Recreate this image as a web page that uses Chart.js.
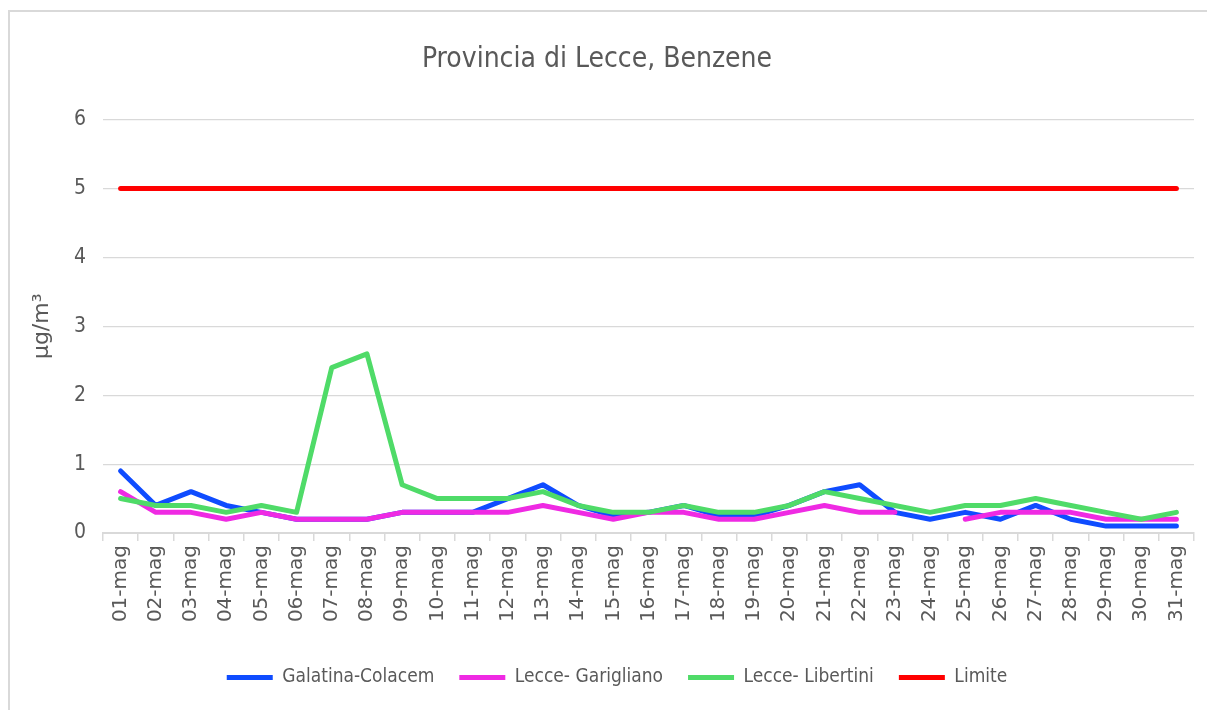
<!DOCTYPE html>
<html>
<head>
<meta charset="utf-8">
<title>Provincia di Lecce, Benzene</title>
<script src="https://cdn.jsdelivr.net/npm/chart.js@4.4.1/dist/chart.umd.min.js"></script>
<style>
    html, body { margin: 0; padding: 0; background: #ffffff; overflow: hidden; }
    #frame {
        position: absolute; left: 8px; top: 10px;
        width: 1240px; height: 740px;
        border: 2px solid #d9d9d9;
    }
    #wrap { position: absolute; left: 0; top: 0; width: 1207px; height: 710px; }
</style>
</head>
<body>
<div id="frame"></div>
<div id="wrap"><canvas id="benzeneChart" width="1207" height="710"></canvas></div>
<script>
// ==========================
// data (µg/m³, maggio)
// ==========================
const giorni = [
    "01-mag", "02-mag", "03-mag", "04-mag", "05-mag", "06-mag", "07-mag", "08-mag",
    "09-mag", "10-mag", "11-mag", "12-mag", "13-mag", "14-mag", "15-mag", "16-mag",
    "17-mag", "18-mag", "19-mag", "20-mag", "21-mag", "22-mag", "23-mag", "24-mag",
    "25-mag", "26-mag", "27-mag", "28-mag", "29-mag", "30-mag", "31-mag"
];

const galatinaColacem = [
    0.9, 0.4, 0.6, 0.4, 0.3, 0.2, 0.2, 0.2, 0.3, 0.3, 0.3, 0.5, 0.7, 0.4, 0.25, 0.3,
    0.4, 0.25, 0.25, 0.4, 0.6, 0.7, 0.3, 0.2, 0.3, 0.2, 0.4, 0.2, 0.1, 0.1, 0.1
];

const lecceGarigliano = [
    0.6, 0.3, 0.3, 0.2, 0.3, 0.2, 0.2, 0.2, 0.3, 0.3, 0.3, 0.3, 0.4, 0.3, 0.2, 0.3,
    0.3, 0.2, 0.2, 0.3, 0.4, 0.3, 0.3, null, 0.2, 0.3, 0.3, 0.3, 0.2, 0.2, 0.2
];

const lecceLibertini = [
    0.5, 0.4, 0.4, 0.3, 0.4, 0.3, 2.4, 2.6, 0.7, 0.5, 0.5, 0.5, 0.6, 0.4, 0.3, 0.3,
    0.4, 0.3, 0.3, 0.4, 0.6, 0.5, 0.4, 0.3, 0.4, 0.4, 0.5, 0.4, 0.3, 0.2, 0.3
];

const limite = [
    5, 5, 5, 5, 5, 5, 5, 5, 5, 5, 5, 5, 5, 5, 5, 5,
    5, 5, 5, 5, 5, 5, 5, 5, 5, 5, 5, 5, 5, 5, 5
];

const yTicks = [0, 1, 2, 3, 4, 5, 6];

// ==========================
// style
// ==========================
const TXT = "#595959";
const GRID = "#d9d9d9";
const NARROW = "'Liberation Sans Narrow', 'DejaVu Sans Condensed', sans-serif";
const WIDE = "'DejaVu Sans', 'Verdana', sans-serif";

function serie(label, data, color, order, width) {
    return {
        label: label,
        data: data,
        borderColor: color,
        backgroundColor: color,
        borderWidth: width,
        pointRadius: 0,
        pointHoverRadius: 0,
        tension: 0,
        borderCapStyle: "round",
        borderJoinStyle: "round",
        spanGaps: false,
        order: order
    };
}

// la legenda in Excel è un po' più a destra del centro del canvas
const legendShift = {
    id: "legendShift",
    afterLayout(chart) {
        if (!chart.legend) return;
        chart.legend.left += 20;
        chart.legend.right += 20;
    }
};

// ==========================
// chart
// ==========================
function drawBenzeneChart() {
    const ctx = document.getElementById("benzeneChart");
    if (!ctx) return;

    new Chart(ctx, {
        type: "line",
        data: {
            labels: giorni,
            datasets: [
                serie("Galatina-Colacem", galatinaColacem, "#0f4cff", 3, 5),
                serie("Lecce- Garigliano", lecceGarigliano, "#ef2ae3", 2, 5),
                serie("Lecce- Libertini", lecceLibertini, "#4fdb68", 1, 5),
                serie("Limite", limite, "#ff0000", 0, 5)
            ]
        },
        plugins: [legendShift],
        options: {
            responsive: false,
            animation: false,
            events: [],
            layout: { padding: { left: 0, right: 13, top: 0, bottom: 13 } },
            plugins: {
                title: {
                    display: true,
                    text: "Provincia di Lecce, Benzene",
                    color: TXT,
                    font: { family: NARROW, size: 28, weight: "normal" },
                    padding: { top: 43, bottom: 43 }
                },
                legend: {
                    position: "bottom",
                    labels: {
                        color: TXT,
                        font: { family: NARROW, size: 19 },
                        usePointStyle: true,
                        pointStyle: "line",
                        pointStyleWidth: 46,
                        padding: 25,
                        sort: (a, b) => a.datasetIndex - b.datasetIndex
                    }
                },
                tooltip: { enabled: false }
            },
            scales: {
                x: {
                    offset: true,
                    grid: {
                        offset: true,
                        drawOnChartArea: false,
                        drawTicks: true,
                        tickLength: 8,
                        color: GRID,
                        lineWidth: 1.5
                    },
                    border: { display: true, color: GRID, width: 2 },
                    ticks: {
                        color: TXT,
                        font: { family: WIDE, size: 20 },
                        minRotation: 90,
                        maxRotation: 90,
                        autoSkip: false,
                        padding: 4
                    },
                    afterFit: (scale) => { scale.height = 110; }
                },
                y: {
                    min: 0,
                    max: 6,
                    afterBuildTicks: (scale) => {
                        scale.ticks = yTicks.map((v) => ({ value: v }));
                    },
                    grid: { color: GRID, lineWidth: 1.2, drawTicks: false },
                    border: { display: false },
                    ticks: {
                        color: TXT,
                        font: { family: NARROW, size: 21 },
                        padding: 17
                    },
                    title: {
                        display: true,
                        text: "μg/m³",
                        color: TXT,
                        font: { family: WIDE, size: 22 },
                        padding: { top: 29, bottom: 0 }
                    },
                    afterFit: (scale) => { scale.width = 103; }
                }
            }
        }
    });
}

drawBenzeneChart();
</script>
</body>
</html>
